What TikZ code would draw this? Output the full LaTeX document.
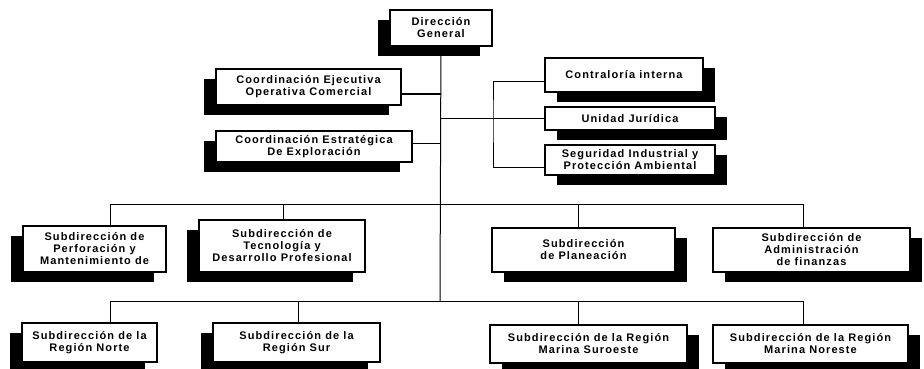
\documentclass[tikz,border=0pt]{standalone}
\usepackage{fontspec}
\setmainfont{Liberation Sans}
\newfontfamily\orgfont{Liberation Sans}[LetterSpace=10]
\usepackage{tikz}
\usetikzlibrary{positioning,shadows}

\begin{document}
\begin{tikzpicture}[x=1pt,y=-1pt,
  font=\orgfont\fontsize{11}{12}\selectfont\bfseries,
  box/.style={draw,line width=1.3pt,fill=white,align=center,inner sep=2pt},
  lbox/.style={box,general shadow={fill=black,shadow xshift=-12pt,shadow yshift=-10pt}},
  rbox/.style={box,general shadow={fill=black,shadow xshift=12pt,shadow yshift=-10pt}},
  ln/.style={line width=1pt}]
  \fill[white] (0,0) rectangle (924,369);
  \useasboundingbox (0,0) rectangle (924,369);
  \node[lbox,minimum width=102,minimum height=36] (dir) at (441,28) {Dirección\\General};
  \node[lbox,minimum width=185,minimum height=36] (coe) at (308.5,87) {Coordinación Ejecutiva\\Operativa Comercial};
  \node[lbox,minimum width=196,minimum height=31] (cee) at (314,146.5) {Coordinación Estratégica\\De Exploración};
  \node[rbox,minimum width=158,minimum height=34] (ci) at (624,75) {Contraloría interna};
  \node[rbox,minimum width=170,minimum height=23] (uj) at (630,118.5) {Unidad Jurídica};
  \node[rbox,minimum width=170,minimum height=30] (sia) at (630,160) {Seguridad Industrial y\\Protección Ambiental};
  \node[lbox,minimum width=143,minimum height=46] (per) at (94.5,249) {Subdirección de\\Perforación y\\Mantenimiento de};
  \node[lbox,minimum width=166,minimum height=52] (tec) at (282,246) {Subdirección de\\Tecnología y\\Desarrollo Profesional};
  \node[rbox,minimum width=183,minimum height=44] (pla) at (583.5,250) {Subdirección\\de Planeación};
  \node[rbox,minimum width=197,minimum height=44] (adm) at (811.5,250) {Subdirección de\\Administración\\de finanzas};
  \node[lbox,minimum width=135,minimum height=39] (nor) at (89.5,342.5) {Subdirección de la\\Región Norte};
  \node[lbox,minimum width=167,minimum height=39] (sur) at (296.5,342.5) {Subdirección de la\\Región Sur};
  \node[rbox,minimum width=197,minimum height=38] (mso) at (588.5,344) {Subdirección de la Región\\Marina Suroeste};
  \node[rbox,minimum width=195,minimum height=38] (mno) at (810.5,344) {Subdirección de la Región\\Marina Noreste};
  \coordinate (h3) at (440,204);
  \coordinate (h4) at (440,301);
  \coordinate (brk) at (493,118.5);
  \draw[ln] (dir) -- (h4);
  \draw[ln] ([yshift=-7pt]coe.east) -- ([yshift=-7pt]coe.east -| dir);
  \draw[ln] ([yshift=3pt]cee.east) -- ([yshift=3pt]cee.east -| dir);
  \draw[ln] (dir |- uj) -- (uj);
  \draw[ln] ([yshift=-7pt]ci.west) -| (brk) |- ([yshift=-7pt]sia.west);
  \draw[ln] ([xshift=15.5pt]per.north |- h3) -- ([xshift=-8.5pt]adm.north |- h3);
  \draw[ln] ([xshift=20.5pt]nor.north |- h4) -- ([xshift=-7.5pt]mno.north |- h4);
  \foreach \n/\d in {per/15.5,tec/1,pla/-5.5,adm/-8.5} \draw[ln] ([xshift=\d pt]\n.north) -- ([xshift=\d pt]\n.north |- h3);
  \foreach \n/\d in {nor/20.5,sur/1.5,mso/-10.5,mno/-7.5} \draw[ln] ([xshift=\d pt]\n.north) -- ([xshift=\d pt]\n.north |- h4);
\end{tikzpicture}
\end{document}
